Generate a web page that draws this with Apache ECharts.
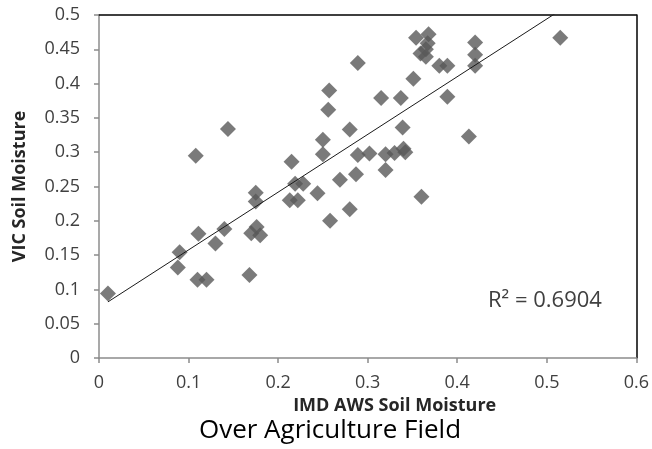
<!DOCTYPE html>
<html>
<head>
<meta charset="utf-8">
<script src="https://cdn.jsdelivr.net/npm/echarts@6/dist/echarts.min.js"></script>
<style>
  html, body { margin: 0; padding: 0; background: #fff; }
  #chart { width: 652px; height: 449px; }
</style>
</head>
<body>
<div id="chart"></div>
<script>
  // IMD AWS (x) vs VIC (y) soil moisture
  var imdAws = [
    0.010, 0.088, 0.090, 0.108, 0.110, 0.120, 0.111, 0.130, 0.140, 0.144,
    0.168, 0.170, 0.176, 0.180, 0.175, 0.175, 0.215, 0.213, 0.222, 0.219,
    0.228, 0.244, 0.250, 0.250, 0.256, 0.257, 0.258, 0.269, 0.280, 0.280,
    0.287, 0.289, 0.289, 0.302, 0.315, 0.320, 0.320, 0.330, 0.337, 0.339,
    0.340, 0.342, 0.351, 0.354, 0.359, 0.360, 0.365, 0.365, 0.367, 0.368,
    0.380, 0.389, 0.389, 0.413, 0.420, 0.420, 0.420, 0.515
  ];
  var vic = [
    0.094, 0.132, 0.154, 0.295, 0.114, 0.114, 0.181, 0.167, 0.188, 0.334,
    0.121, 0.182, 0.191, 0.179, 0.241, 0.228, 0.286, 0.230, 0.230, 0.254,
    0.254, 0.240, 0.318, 0.297, 0.362, 0.390, 0.200, 0.260, 0.217, 0.333,
    0.268, 0.296, 0.430, 0.298, 0.379, 0.297, 0.274, 0.299, 0.379, 0.336,
    0.305, 0.300, 0.407, 0.467, 0.444, 0.235, 0.450, 0.439, 0.459, 0.472,
    0.426, 0.426, 0.381, 0.323, 0.460, 0.442, 0.426, 0.467
  ];
  var xTicks = [0, 0.1, 0.2, 0.3, 0.4, 0.5, 0.6];
  var yTicks = [0, 0.05, 0.1, 0.15, 0.2, 0.25, 0.3, 0.35, 0.4, 0.45, 0.5];
  var r2Text = 'R² = 0.6904';

  var points = imdAws.map(function (x, i) { return [x, vic[i]]; });

  // least squares trend line over the data range
  var n = points.length, sx = 0, sy = 0, sxx = 0, sxy = 0;
  points.forEach(function (p) { sx += p[0]; sy += p[1]; sxx += p[0] * p[0]; sxy += p[0] * p[1]; });
  var slope = (n * sxy - sx * sy) / (n * sxx - sx * sx);
  var icpt = (sy - slope * sx) / n;
  var xMin = Math.min.apply(null, imdAws), xMax = Math.max.apply(null, imdAws);
  var trend = [[xMin, icpt + slope * xMin], [xMax, icpt + slope * xMax]];

  var fmt = function (v) { return String(parseFloat(v.toFixed(2))); };
  var font = '"Open Sans", "Noto Sans", sans-serif';

  var chart = echarts.init(document.getElementById('chart'));
  chart.setOption({
    animation: false,
    grid: { left: 99, right: 15, top: 15, bottom: 91 },
    xAxis: [{
      type: 'value', min: xTicks[0], max: xTicks[xTicks.length - 1], interval: 0.1,
      axisLine: { show: true, lineStyle: { color: '#8c8c8c', width: 1.5 } },
      axisTick: { show: true, length: 5, lineStyle: { color: '#8c8c8c', width: 1.5 } },
      splitLine: { show: false },
      axisLabel: { formatter: fmt, color: '#404040', fontSize: 18, fontFamily: font, margin: 16 },
      name: 'IMD AWS Soil Moisture', nameLocation: 'middle', nameGap: 37,
      nameTextStyle: { color: '#262626', fontSize: 18, fontWeight: 'bold', fontFamily: font, padding: [0, 0, 0, 54] }
    }, {
      type: 'value', position: 'top', min: 0, max: 0.6,
      axisLine: { show: true, onZero: false, lineStyle: { color: '#000', width: 1.5 } },
      axisTick: { show: false }, axisLabel: { show: false }, splitLine: { show: false }
    }],
    yAxis: [{
      type: 'value', min: yTicks[0], max: yTicks[yTicks.length - 1], interval: 0.05,
      axisLine: { show: true, lineStyle: { color: '#8c8c8c', width: 1.5 } },
      axisTick: { show: true, length: 5, lineStyle: { color: '#8c8c8c', width: 1.5 } },
      splitLine: { show: false },
      axisLabel: { formatter: fmt, color: '#404040', fontSize: 18, fontFamily: font, margin: 19 },
      name: 'VIC Soil Moisture', nameLocation: 'middle', nameGap: 70, nameRotate: 90,
      nameTextStyle: { color: '#262626', fontSize: 18, fontWeight: 'bold', fontFamily: font }
    }, {
      type: 'value', position: 'right', min: 0, max: 0.5,
      axisLine: { show: true, onZero: false, lineStyle: { color: '#000', width: 1.5 } },
      axisTick: { show: false }, axisLabel: { show: false }, splitLine: { show: false }
    }],
    title: {
      text: 'Over Agriculture Field', left: 325, top: 413, textAlign: 'center',
      textStyle: { color: '#000', fontSize: 26, fontWeight: 'normal', fontFamily: font }
    },
    graphic: [{
      type: 'text', left: 488, top: 290,
      style: { text: r2Text, fill: '#404040', fontSize: 22, fontFamily: font }
    }],
    series: [{
      type: 'scatter', data: points, symbol: 'diamond', symbolSize: 16,
      itemStyle: { color: '#595959' }, z: 2
    }, {
      type: 'line', data: trend, symbol: 'none', clip: true,
      lineStyle: { color: '#1a1a1a', width: 1 }, z: 3
    }]
  });
</script>
</body>
</html>
